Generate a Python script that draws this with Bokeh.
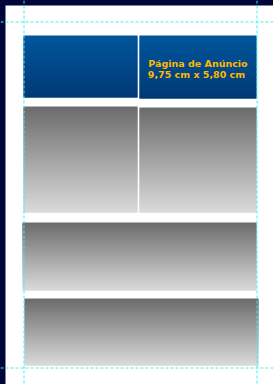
from bokeh.plotting import figure
from bokeh.models import Range1d, Span
from bokeh.embed import file_html
from bokeh.resources import INLINE
from bokeh.core.properties import value

# ---- layout data (page coordinates, pixels) ----
page_x = [5, 273]
page_y = [5, 384]

blue_x0 = [23, 139]
blue_x1 = [137, 256]
blue_y0 = [35, 35]
blue_y1 = [97, 98]

gray_x0 = [23, 139, 22, 24]
gray_x1 = [137, 256, 256, 258]
gray_y0 = [106, 107, 222, 298]
gray_y1 = [212, 212, 290, 365]

guide_v = [23.5, 256.5]
guide_h = [21.5, 367.5]

label_lines = ["Página de Anúncio", "9,75 cm x 5,80 cm"]
label_x = [197.5, 196]
label_y = [63, 73.5]

BLUE_TOP, BLUE_BOT = (0x00, 0x56, 0x9C), (0x00, 0x3A, 0x76)
GRAY_TOP, GRAY_BOT = (0x6C, 0x6C, 0x6C), (0xDA, 0xDA, 0xDA)

W, H = 273, 384
p = figure(width=W, height=H, output_backend="svg", toolbar_location=None,
           x_range=Range1d(0, W), y_range=Range1d(H, 0),
           min_border=0, min_border_left=0, min_border_right=0,
           min_border_top=0, min_border_bottom=0)
p.axis.visible = False
p.grid.visible = False
p.outline_line_color = None
p.background_fill_color = "#00053a"
p.border_fill_color = "#00053a"

# white page
p.quad(left=[page_x[0]], right=[page_x[1]], top=[page_y[0]], bottom=[page_y[1]],
       fill_color="white", line_color=None)


def hexc(c):
    return "#%02x%02x%02x" % tuple(int(round(v)) for v in c)


def gradient_boxes(x0s, x1s, y0s, y1s, ctop, cbot):
    L, R, T, B, C = [], [], [], [], []
    for x0, x1, y0, y1 in zip(x0s, x1s, y0s, y1s):
        n = int(y1 - y0)
        for i in range(n):
            t = i / max(1, n - 1)
            col = [ctop[k] + (cbot[k] - ctop[k]) * t for k in range(3)]
            L.append(x0)
            R.append(x1)
            T.append(y0 + i)
            B.append(min(y1, y0 + i + 2))
            C.append(hexc(col))
    p.quad(left=L, right=R, top=T, bottom=B, fill_color=C, line_color=None)


gradient_boxes(blue_x0, blue_x1, blue_y0, blue_y1, BLUE_TOP, BLUE_BOT)
gradient_boxes(gray_x0, gray_x1, gray_y0, gray_y1, GRAY_TOP, GRAY_BOT)

p.text(x=label_x, y=label_y, text=label_lines,
       text_font=value("DejaVu Sans"), text_font_style="bold",
       text_font_size="9.5px", text_color="#ffb800",
       text_align="center", text_baseline="middle")

for gx in guide_v:
    p.add_layout(Span(location=gx, dimension="height", line_color="#3ff0f0",
                      line_width=1, line_dash="3 2"))
for gy in guide_h:
    p.add_layout(Span(location=gy, dimension="width", line_color="#3ff0f0",
                      line_width=1, line_dash="3 2"))

html = file_html(p, INLINE)
html = html.replace("</head>",
                    "<style>html,body{margin:0;padding:0;background:#00053a;overflow:hidden}</style></head>", 1)
open("out.html", "w").write(html)
